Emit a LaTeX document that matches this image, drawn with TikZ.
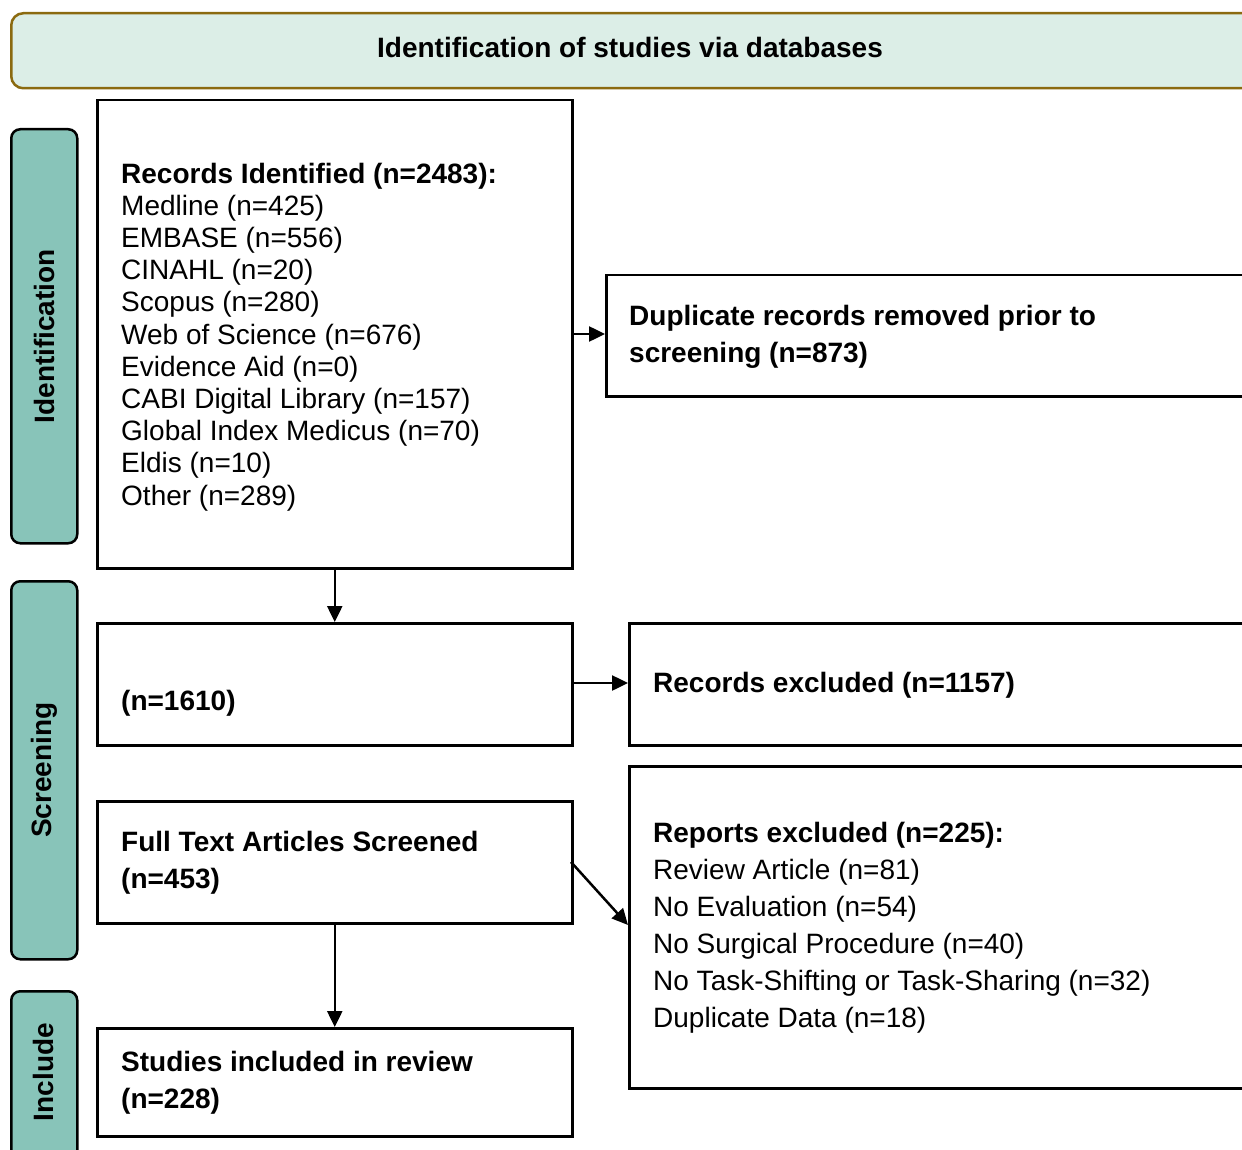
\documentclass[tikz,border=0pt]{standalone}
\usepackage{fontspec}
\setmainfont{Liberation Sans}
\usetikzlibrary{arrows.meta}
\definecolor{bannerfill}{HTML}{DCEEE7}
\definecolor{bannerline}{HTML}{8B6A10}
\definecolor{barfill}{HTML}{88C4B9}
\tikzset{
  box/.style={draw=black, line width=2.5pt, fill=white, anchor=north west, inner sep=0pt},
  bar/.style={draw=black, line width=2.5pt, fill=barfill, rounded corners=9pt, anchor=north west, inner sep=0pt},
  bartext/.style={rotate=90, font=\fontsize{28}{32}\selectfont\bfseries},
  txt/.style={anchor=base west, align=left, inner sep=0pt, font=\fontsize{28}{37}\selectfont},
  arr/.style={line width=2.5pt, -{Triangle[length=16pt,width=15pt]}}
}
\begin{document}
\begin{tikzpicture}[x=1pt,y=-1pt]
\useasboundingbox (0,0) rectangle (1242,1150);
\clip (0,0) rectangle (1242,1150);
% banner
\node[draw=bannerline, line width=2.5pt, fill=bannerfill, rounded corners=12pt, anchor=north west, inner sep=0pt, minimum width=1270pt, minimum height=75pt] (banner) at (10,12) {};
\node[font=\fontsize{28}{32}\selectfont\bfseries, anchor=base] (bannertxt) at (630,58) {Identification of studies via databases};
% side bars
\node[bar, minimum width=66pt, minimum height=414pt] (bid) at (10,128) {};
\node[bartext] (bidt) at (bid.center) {Identification};
\node[bar, minimum width=66pt, minimum height=378pt] (bsc) at (10,580) {};
\node[bartext] (bsct) at (bsc.center) {Screening};
\node[bar, minimum width=66pt, minimum height=200pt] (bin) at (10,990) {};
\node[bartext] (bint) at (43,1072) {Include};
% boxes
\node[box, minimum width=475pt, minimum height=468pt] (rec) at (96,99) {};
\node[txt, font=\fontsize{28}{32.2}\selectfont] (rect) at (121,505) {\textbf{Records Identified (n=2483):}\\Medline (n=425)\\EMBASE (n=556)\\CINAHL (n=20)\\Scopus (n=280)\\Web of Science (n=676)\\Evidence Aid (n=0)\\CABI Digital Library (n=157)\\Global Index Medicus (n=70)\\Eldis (n=10)\\Other (n=289)};
\node[box, minimum width=700pt, minimum height=121pt] (dup) at (605,274) {};
\node[txt, font=\fontsize{28}{37}\selectfont\bfseries] (dupt) at (629,362) {Duplicate records removed prior to\\screening (n=873)};
\node[box, minimum width=475pt, minimum height=122pt] (scr) at (96,622) {};
\node[txt, font=\fontsize{28}{37}\selectfont\bfseries] (scrt) at (121,710) {(n=1610)};
\node[box, minimum width=700pt, minimum height=122pt] (exc) at (628,622) {};
\node[txt, font=\fontsize{28}{37}\selectfont\bfseries] (exct) at (653,692) {Records excluded (n=1157)};
\node[box, minimum width=475pt, minimum height=122pt] (full) at (96,800) {};
\node[txt, font=\fontsize{28}{37}\selectfont\bfseries] (fullt) at (121,888) {Full Text Articles Screened\\(n=453)};
\node[box, minimum width=700pt, minimum height=322pt] (rep) at (628,765) {};
\node[txt] (rept) at (653,1027) {\textbf{Reports excluded (n=225):}\\Review Article (n=81)\\No Evaluation (n=54)\\No Surgical Procedure (n=40)\\No Task-Shifting or Task-Sharing (n=32)\\Duplicate Data (n=18)};
\node[box, minimum width=475pt, minimum height=108pt] (inc) at (96,1027) {};
\node[txt, font=\fontsize{28}{37}\selectfont\bfseries] (inct) at (121,1108) {Studies included in review\\(n=228)};
% arrows
\draw[arr] (rec.south) -- (scr.north);
\draw[arr] (rec.east |- 0,334) -- (dup.west |- 0,334);
\draw[arr] (scr.east |- 0,683) -- (exc.west |- 0,683);
\draw[arr] (full.south) -- (inc.north);
\coordinate (dstart) at (571,862);
\coordinate (dend) at (628,925);
\draw[arr] (dstart) -- (dend);
\end{tikzpicture}
\end{document}
